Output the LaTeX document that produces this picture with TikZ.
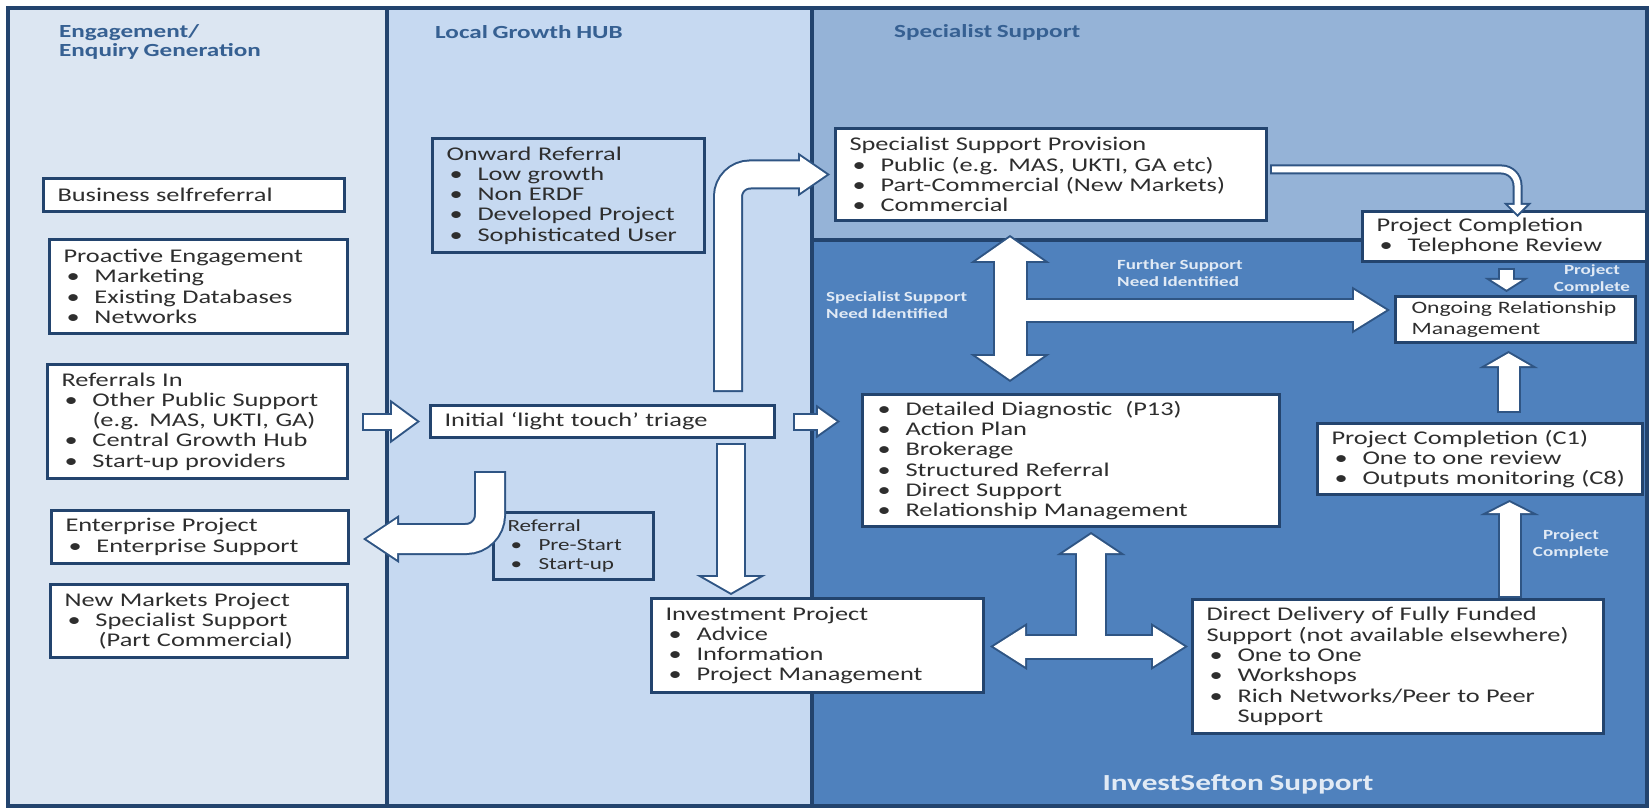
\documentclass[tikz,border=0pt]{standalone}
\usepackage{fontspec}
\setmainfont{Carlito}[FakeStretch=1.36,WordSpace=0.8]
\usetikzlibrary{arrows.meta,calc}

\definecolor{engage}{HTML}{DCE6F2}
\definecolor{hubblue}{HTML}{C6D9F1}
\definecolor{special}{HTML}{95B3D7}
\definecolor{sefton}{HTML}{4F81BD}
\definecolor{frame}{HTML}{23446E}
\definecolor{arrowedge}{HTML}{2F5584}
\definecolor{headcol}{HTML}{366092}
\definecolor{bodytext}{HTML}{2E2E2E}
\definecolor{pale}{HTML}{E1EAF5}

\newcommand{\bul}{\makebox[31pt][l]{\hspace{3pt}\textbullet}}
\newcommand{\wrapind}{\hspace*{31pt}}

\tikzset{
  box/.style={draw=frame, line width=3pt, fill=white, anchor=north west,
    align=left, inner xsep=14pt, inner ysep=2pt, text=bodytext,
    font=\fontsize{19.4}{20.3}\selectfont},
  heading/.style={text=headcol, inner sep=0pt, align=left,
    font=\fontsize{18.5}{19}\selectfont\bfseries},
  tag/.style={text=pale, inner sep=0pt,
    font=\fontsize{14}{16.5}\selectfont\bfseries},
  % block arrows: dark rim first, white core on top
  rim/.code args={#1/#2/#3}{\tikzset{draw=arrowedge, line width=#1pt,
      shorten >=0pt, shorten <=0pt,
      >={Triangle[width=#2pt, length=#3pt, line width=0pt 0 0]}, ->}},
  body/.code args={#1/#2/#3}{%
    \pgfmathsetmacro\cutback{2/sin(atan(#2/(2*#3)))}%
    \pgfmathsetmacro\tiplen{#3-\cutback-2}%
    \pgfmathsetmacro\tipwd{\tiplen*#2/#3}%
    \pgfmathsetmacro\corewd{#1-4}%
    \tikzset{draw=white, line width=\corewd pt, shorten >=\cutback pt,
      shorten <=2pt,
      >={Triangle[width=\tipwd pt, length=\tiplen pt, line width=0pt 0 0]}, ->}},
  twoway/.style={<->, shorten <=\cutback pt},
  fat/.style={body=#1, preaction={rim=#1}},
}

\begin{document}
\begin{tikzpicture}[x=1pt, y=-1pt]
\useasboundingbox (0,0) rectangle (1651,810);

% the four areas
\fill[engage] (8,8) rectangle (387,806);
\fill[hubblue] (387,8) rectangle (812,806);
\fill[special] (812,8) rectangle (1647,240);
\fill[sefton] (812,240) rectangle (1647,806);
\draw[frame, line width=3.5pt] (8,8) rectangle (1647,806)
  (387,8) -- (387,806) (812,8) -- (812,806) (812,240) -- (1647,240);

\node[heading, anchor=west] (ttlengage) at (59,42) {Engagement/\\Enquiry Generation};
\node[heading, anchor=base west] (ttlhub) at (435,39) {Local Growth HUB};
\node[heading, anchor=base west] (ttlspec) at (894,38) {Specialist Support};
\node[heading, text=pale, anchor=base, font=\fontsize{23}{25}\selectfont\bfseries]
  (ttlsefton) at (1238,790) {InvestSefton Support};

% engagement column
\node[box, text width=273pt, minimum height=33pt] (self) at (42,177) {Business selfreferral};
\node[box, text width=270pt, minimum height=94pt] (proactive) at (48,238)
  {Proactive Engagement\\ \bul Marketing\\ \bul Existing Databases\\ \bul Networks};
\node[box, text width=272pt, minimum height=114pt] (refin) at (46,363)
  {Referrals In\\ \bul Other Public Support\\ \wrapind(e.g. MAS, UKTI, GA)\\
   \bul Central Growth Hub\\ \bul Start-up providers};
\node[box, text width=269pt, minimum height=53pt] (enterprise) at (50,509)
  {Enterprise Project\\ \bul Enterprise Support};
\node[box, text width=269pt, minimum height=73pt] (newmarkets) at (49,583)
  {New Markets Project\\ \bul Specialist Support\\ \wrapind\,(Part Commercial)};

% hub column
\node[box, fill=none, text width=244pt, minimum height=114pt] (onward) at (431,137)
  {Onward Referral\\ \bul Low growth\\ \bul Non ERDF\\ \bul Developed Project\\
   \bul Sophisticated User};
\node[box, text width=316pt, minimum height=32pt] (triage) at (429,404)
  {Initial ‘light touch’ triage};
\node[box, fill=none, text width=132pt, minimum height=67pt,
  font=\fontsize{17}{18.7}\selectfont] (referral) at (492,511)
  {Referral\\ \bul Pre-Start\\ \bul Start-up};
\node[box, text width=304pt, minimum height=94pt] (investment) at (650,597)
  {Investment Project\\ \bul Advice\\ \bul Information\\ \bul Project Management};

% specialist and InvestSefton support
\node[box, text width=403pt, minimum height=92pt] (spec) at (834,127)
  {Specialist Support Provision\\ \bul Public (e.g. MAS, UKTI, GA etc)\\
   \bul Part-Commercial (New Markets)\\ \bul Commercial};
\node[box, inner xsep=12pt, text width=393pt, minimum height=132pt] (diag) at (861,393)
  {\bul Detailed Diagnostic\ \ (P13)\\ \bul Action Plan\\ \bul Brokerage\\
   \bul Structured Referral\\ \bul Direct Support\\ \bul Relationship Management};
\node[box, text width=256pt, minimum height=50pt] (telreview) at (1361,210)
  {Project Completion\\ \bul Telephone Review};
\node[box, inner xsep=16pt, text width=208pt, minimum height=46pt,
  font=\fontsize{17.4}{20.3}\selectfont] (ongoing) at (1394,295)
  {Ongoing Relationship\\Management};
\node[box, text width=297pt, minimum height=71pt] (completion) at (1316,422)
  {Project Completion (C1)\\ \bul One to one review\\ \bul Outputs monitoring (C8)};
\node[box, text width=383pt, minimum height=134pt] (direct) at (1191,598)
  {Direct Delivery of Fully Funded\\ Support (not available elsewhere)\\
   \bul One to One\\ \bul Workshops\\ \bul Rich Networks/Peer to Peer\\ \wrapind Support};

\node[tag, anchor=west, align=left] (lblspec) at (826,305) {Specialist Support\\Need Identified};
\node[tag, anchor=west, align=left] (lblfurther) at (1117,273) {Further Support\\Need Identified};
\node[tag, align=center] (lbldone) at (1592,279) {Project\\Complete};
\node[tag, align=center] (lbldonelow) at (1571,544) {Project\\Complete};

% arrows out of the hub
\draw[fat=18/44/30] ($(refin.east)+(13,0)$) -- ($(triage.west)+(-9,0)$);
\draw[fat=18/34/24] ($(triage.east)+(17,0)$) -- ($(diag.west |- triage.east)+(-21,0)$);
\draw[fat=30/44/32, rounded corners=22pt] ($(triage.north east)+(-48,-12)$)
  |- ($(spec.west)+(-4,0)$);
\draw[fat=30/70/20] ($(triage.south east)+(-45,4)$)
  -- ($(triage.south east |- investment.north)+(-45,-2)$);
\draw[fat=32/48/36, rounded corners=24pt] ($(triage.south west)+(61,32)$)
  |- ($(enterprise.east)+(13,2)$);

% joined arrows between diagnostic, provision and delivery
\coordinate (fork) at ($(spec.south west)+(176,88)$);
\coordinate (hub) at ($(investment.east)+(106,1)$);
\draw[rim=35/80/28, <->] ($(fork |- spec.south)+(0,13)$) -- ($(fork |- diag.north)+(0,-11)$);
\draw[rim=25/47/38] (fork) -- ($(ongoing.west |- fork)+(-4,0)$);
\draw[rim=26/47/37, <->] ($(investment.east |- hub)+(5,0)$) -- ($(direct.west |- hub)+(-3,0)$);
\draw[rim=32/69/23] (hub) -- ($(hub |- diag.south)+(0,4)$);
\draw[body=35/80/28, twoway] ($(fork |- spec.south)+(0,13)$) -- ($(fork |- diag.north)+(0,-11)$);
\draw[body=25/47/38, shorten <=0pt] (fork) -- ($(ongoing.west |- fork)+(-4,0)$);
\draw[body=26/47/37, twoway] ($(investment.east |- hub)+(5,0)$) -- ($(direct.west |- hub)+(-3,0)$);
\draw[body=32/69/23, shorten <=0pt] (hub) -- ($(hub |- diag.south)+(0,4)$);

% completion arrows
\draw[fat=10/28/14, rounded corners=16pt] ($(spec.east)+(2,-5)$) -| ($(telreview.north)+(13,7)$);
\draw[fat=17/44/14] ($(telreview.south)+(2,5)$) -- ($(telreview.south |- ongoing.north)+(2,-3)$);
\draw[fat=24/59/17] ($(ongoing.south |- completion.north)+(-7,-9)$) -- ($(ongoing.south)+(-7,7)$);
\draw[fat=24/59/15] ($(direct.north -| ongoing.south)+(-6,0)$)
  -- ($(ongoing.south |- completion.south)+(-6,4)$);
\end{tikzpicture}
\end{document}
